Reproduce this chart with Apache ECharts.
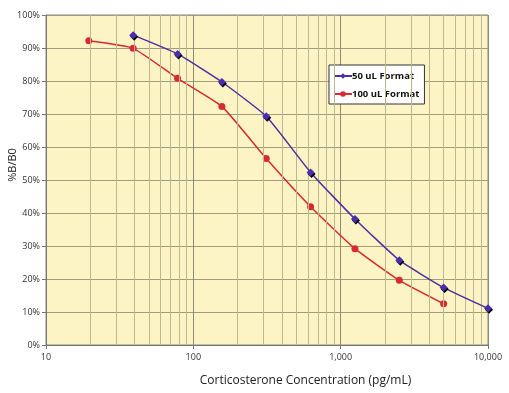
<!DOCTYPE html>
<html><head><meta charset="utf-8">
<script src="https://cdn.jsdelivr.net/npm/echarts@6/dist/echarts.min.js"></script>
<style>html,body{margin:0;padding:0;background:#fff}#c{width:509px;height:393px}</style>
</head><body><div id="c"></div>
<script>
const conc50 = [39.06, 78.13, 156.25, 312.5, 625, 1250, 2500, 5000, 10000];
const vals50 = [93.9, 88.2, 79.7, 69.3, 52.3, 38.2, 25.7, 17.4, 11.1];
const conc100 = [19.53, 39.06, 78.13, 156.25, 312.5, 625, 1250, 2500, 5000];
const vals100 = [92.2, 89.9, 80.8, 72.3, 56.5, 41.9, 29.2, 19.6, 12.5];
const minorGrid = [20,30,40,50,60,70,80,90,200,300,400,500,600,700,800,900,2000,3000,4000,5000,6000,7000,8000,9000];
const yTicks = [0,10,20,30,40,50,60,70,80,90,100];

const font = 'Open Sans';
const chart = echarts.init(document.getElementById('c'));
const mk = (xs, ys) => xs.map((x, i) => [x, ys[i]]);
chart.setOption({
  animation: false,
  textStyle: {fontFamily: font},
  grid: {left: 46, right: 21, top: 15, bottom: 48, containLabel: false, outerBoundsMode: 'none',
         backgroundColor: '#FDF4C6', show: true, borderColor: '#888', borderWidth: 1},
  legend: {
    left: 329, top: 65, orient: 'vertical', backgroundColor: '#fff', borderColor: '#333', borderWidth: 1,
    padding: [6, 5, 5, 4], itemGap: 8, itemWidth: 18, itemHeight: 7,
    textStyle: {fontFamily: font, fontWeight: 'bold', fontSize: 9.5, color: '#111', padding: [0, 0, 0, -5]},
    data: ['50 uL Format', '100 uL Format']
  },
  xAxis: {
    type: 'log', logBase: 10, min: 10, max: 10000,
    name: 'Corticosterone Concentration (pg/mL)', nameLocation: 'middle', nameGap: 30, nameMoveOverlap: false,
    nameTextStyle: {fontFamily: font, fontSize: 12, color: '#222', padding: [0, 0, 0, 77]},
    axisLine: {lineStyle: {color: '#777'}},
    axisTick: {show: true, length: 4, lineStyle: {color: '#777'}},
    axisLabel: {fontFamily: font, fontSize: 9, color: '#333', margin: 8, formatter: v => Number(v).toLocaleString('en-US')},
    splitLine: {show: true, lineStyle: {color: '#8f8a72', width: 1}}
  },
  yAxis: {
    type: 'value', min: 0, max: 100, interval: 10,
    name: '%B/B0', nameLocation: 'middle', nameGap: 28, nameMoveOverlap: false,
    nameTextStyle: {fontFamily: font, fontSize: 11, color: '#222', padding: [0, 0, 0, 30]},
    axisLine: {show: true, lineStyle: {color: '#777'}},
    axisTick: {show: true, length: 4, lineStyle: {color: '#777'}},
    axisLabel: {fontFamily: font, fontSize: 9, color: '#333', margin: 6, formatter: '{value}%'},
    splitLine: {show: true, lineStyle: {color: '#a29c7e', width: 1}}
  },
  series: [
    {
      name: '50 uL Format', type: 'line', data: mk(conc50, vals50), smooth: 0.15,
      symbol: 'diamond', symbolSize: 8, z: 5,
      lineStyle: {color: '#4E2F9E', width: 1.5},
      itemStyle: {color: '#4B2CB0', shadowColor: '#000', shadowOffsetX: 1, shadowOffsetY: 1.5, shadowBlur: 0},
      markLine: {
        silent: true, symbol: 'none', label: {show: false}, animation: false,
        lineStyle: {color: '#bdb693', type: 'solid', width: 1},
        data: minorGrid.map(v => ({xAxis: v}))
      }
    },
    {
      name: '100 uL Format', type: 'line', data: mk(conc100, vals100), smooth: 0.15,
      symbol: 'circle', symbolSize: 7, z: 4,
      lineStyle: {color: '#D72A33', width: 1.5},
      itemStyle: {color: '#D72A33'}
    }
  ]
});
</script></body></html>
